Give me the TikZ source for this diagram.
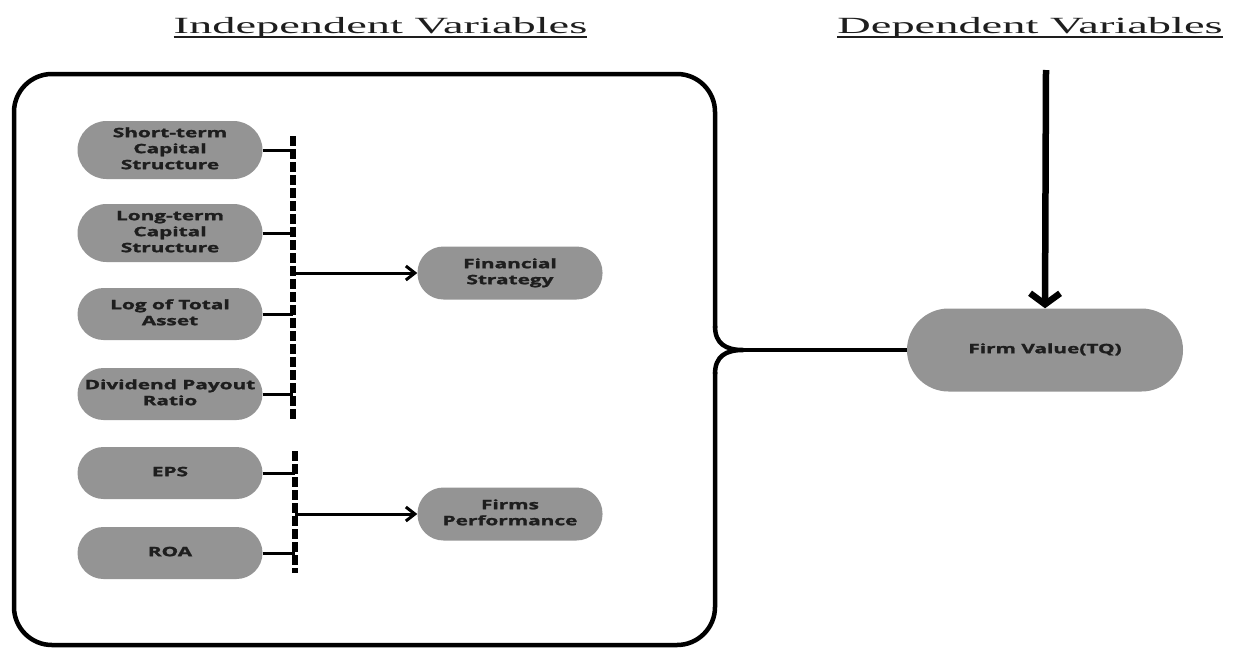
\documentclass[tikz,border=0pt]{standalone}
\usepackage{fontspec}
\setmainfont{Liberation Serif}
\newfontfamily\nodefont[BoldFeatures={FakeBold=1.3}]{Open Sans}
\usetikzlibrary{arrows.meta}
\definecolor{nodegray}{RGB}{148,148,148}
\definecolor{txtdark}{RGB}{30,30,30}
\newcommand{\ntext}[1]{\scalebox{1.6}[1]{\nodefont\bfseries\fontsize{13}{16}\selectfont\begin{tabular}{@{}c@{}}#1\end{tabular}}}
\newcommand{\ttext}[1]{\scalebox{2.0}[1]{\fontsize{23.2}{26}\selectfont #1}}
\tikzset{
  vnode/.style={fill=nodegray, rounded corners=26pt, minimum width=185pt, minimum height=52pt, inner sep=0pt, text=txtdark},
  boxline/.style={line width=4.5pt, line join=round},
  dashbar/.style={line width=6.5pt, dash pattern=on 9.5pt off 3.5pt},
  conn/.style={line width=3pt},
  smallarrow/.style={line width=3pt, -{Straight Barb[length=9pt, width=14pt]}},
  bigarrow/.style={line width=6.5pt, -{Straight Barb[length=11pt, width=30pt]}},
  title/.style={anchor=base, inner sep=0pt, text=txtdark}
}
\begin{document}
\begin{tikzpicture}[x=1pt, y=-1pt]
\useasboundingbox[fill=white] (0,0) rectangle (1238,648);

% titles
\node[title] (ti) at (380.5,33) {\ttext{Independent Variables}};
\draw[line width=2pt, txtdark] ([yshift=-3.5pt]ti.base west) -- ([yshift=-3.5pt]ti.base east);
\node[title] (td) at (1030,33) {\ttext{Dependent Variables}};
\draw[line width=2pt, txtdark] ([yshift=-3.5pt]td.base west) -- ([yshift=-3.5pt]td.base east);

% enclosing box with brace
\coordinate (tip) at (743,350);
\draw[boxline, rounded corners=38pt] (715,328) -- (715,74) -- (14,74) -- (14,645) -- (715,645) -- (715,372);
\draw[boxline] (715,326) .. controls (715,344) and (726,350) .. (tip)
  .. controls (726,350) and (715,356) .. (715,374);

% left nodes
\node[vnode, minimum height=58pt, rounded corners=29pt] (st) at (170,150) {\ntext{Short-term\\Capital\\Structure}};
\node[vnode, minimum height=58pt, rounded corners=29pt] (lt) at (170,233) {\ntext{Long-term\\Capital\\Structure}};
\node[vnode] (la) at (170,314) {\ntext{Log of Total\\Asset}};
\node[vnode] (dp) at (170,394) {\ntext{Dividend Payout\\Ratio}};
\node[vnode] (eps) at (170,473) {\ntext{EPS}};
\node[vnode] (roa) at (170,553) {\ntext{ROA}};

% middle nodes
\node[vnode, minimum height=53pt] (fs) at (510,273) {\ntext{Financial\\Strategy}};
\node[vnode, minimum height=53pt] (fp) at (510,514) {\ntext{Firms\\Performance}};

% dependent node
\node[vnode, minimum width=276pt, minimum height=83pt, rounded corners=41.5pt] (fv) at (1045,350) {\ntext{Firm Value(TQ)}};

% dashed bars
\coordinate (d1t) at (293,136);
\coordinate (d1b) at (293,419);
\coordinate (d2t) at (295,451);
\coordinate (d2b) at (295,573);
\draw[dashbar] (d1t) -- (d1b);
\draw[dashbar] (d2t) -- (d2b);

% connectors into bars
\foreach \n in {st,lt,la,dp}{
  \draw[conn] (\n.east) -- (\n.east -| d1t);
}
\foreach \n in {eps,roa}{
  \draw[conn] (\n.east) -- (\n.east -| d2t);
}

% arrows to middle nodes
\draw[smallarrow] (fs.west -| d1t) -- (fs.west);
\draw[smallarrow] (fp.west -| d2t) -- (fp.west);

% brace to firm value
\draw[conn, line width=3.5pt] (tip) -- (fv.west);

% big arrow
\coordinate (atop) at (1046,70);
\draw[bigarrow] (atop) -- (fv.north);
\end{tikzpicture}
\end{document}
